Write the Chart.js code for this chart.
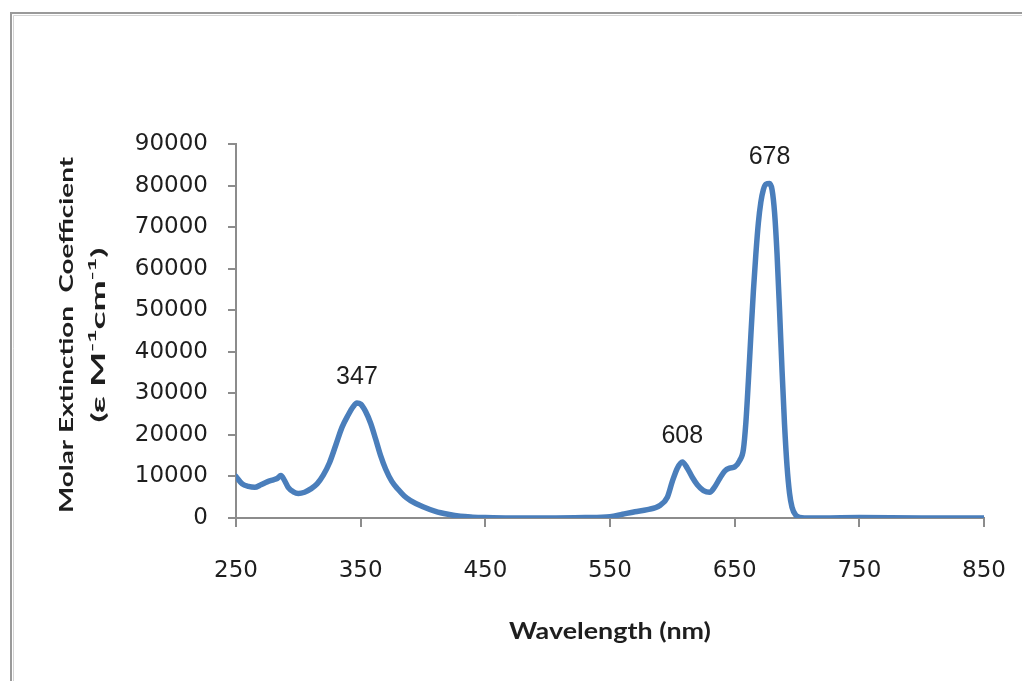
<!DOCTYPE html>
<html>
<head>
<meta charset="utf-8">
<script src="https://cdn.jsdelivr.net/npm/chart.js@4/dist/chart.umd.min.js"></script>
<style>
  html, body { margin: 0; padding: 0; background: #fff; overflow: hidden; }
  canvas { display: block; }
</style>
</head>
<body>
<canvas id="spectrum" width="1022" height="681"></canvas>
<script>
// Absorption spectrum: wavelength (nm) vs molar extinction coefficient
const wavelengths = [
  250, 255, 260, 265, 270, 275, 280, 283, 286, 289,
  292, 296, 300, 305, 310, 315, 320, 325, 330, 335,
  340, 344, 347, 350, 354, 358, 362, 366, 370, 375,
  380, 385, 390, 400, 410, 420, 430, 440, 450, 470,
  500, 530, 550, 560, 570, 580, 590, 596, 600, 604,
  608, 612, 616, 620, 625, 630, 634, 638, 642, 646,
  650, 654, 657, 659, 661, 663, 665, 667, 669, 671,
  673, 675, 678, 680, 682, 684, 686, 688, 690, 692,
  694, 696, 699, 702, 706, 720, 750, 800, 850
];
const epsilon = [
  10000, 8200, 7600, 7400, 8000, 8700, 9200, 9500, 10200, 9000,
  7300, 6300, 5900, 6200, 7000, 8200, 10300, 13300, 17500, 21800,
  24800, 26800, 27700, 27400, 25600, 22800, 19000, 15000, 11800, 8800,
  6900, 5300, 4200, 2700, 1600, 900, 400, 200, 100, 0,
  0, 100, 300, 900, 1500, 2000, 3000, 5000, 8800, 12000,
  13500, 12000, 9800, 8000, 6600, 6200, 7500, 9500, 11300, 12000,
  12300, 13800, 16500, 23000, 33000, 44000, 54500, 63500, 71000, 76000,
  79000, 80300, 80500, 79000, 73500, 63500, 50000, 35500, 22500, 12500,
  6000, 2600, 700, 150, 0, 0, 100, 0, 0
];

// Peaks that get a wavelength label above them
const peakLabels = [347, 608, 678];

const xTitle = 'Wavelength (nm)';
const yTitleLine1 = 'Molar Extinction  Coefficient';
// second line with superscripted exponents
const yTitleLine2 = [
  { t: '(\u03b5 M' }, { t: '-1', sup: true }, { t: 'cm' }, { t: '-1', sup: true }, { t: ')' }
];

const LINE_BLUE = '#4a7ebb';
const AXIS_GRAY = '#8c8c8c';
const TEXT = '#1e1e1e';
const TITLE_FONT = 'Lato, "Open Sans", sans-serif';

const points = wavelengths.map((w, i) => ({ x: w, y: epsilon[i] }));

// Thin frame along the top and left edges
const framePlugin = {
  id: 'frame',
  beforeDraw(chart) {
    const ctx = chart.ctx;
    ctx.save();
    ctx.fillStyle = '#fff';
    ctx.fillRect(0, 0, chart.width, chart.height);
    ctx.strokeStyle = '#d4d4d4';
    ctx.lineWidth = 1;
    ctx.beginPath();
    ctx.moveTo(13.5, chart.height);
    ctx.lineTo(13.5, 15.5);
    ctx.lineTo(chart.width, 15.5);
    ctx.stroke();
    ctx.strokeStyle = '#9a9a9a';
    ctx.lineWidth = 2;
    ctx.beginPath();
    ctx.moveTo(11, chart.height);
    ctx.lineTo(11, 13);
    ctx.lineTo(chart.width, 13);
    ctx.stroke();
    ctx.restore();
  }
};

// Draws a run of text segments centred on (cx, cy), stretched along
// the reading direction so the whole run spans `span` pixels.
function drawRun(ctx, segs, cx, cy, angle, size, span) {
  const fontOf = s => 'bold ' + (s.sup ? Math.round(size * 0.62) : size) + 'px ' + TITLE_FONT;
  ctx.save();
  ctx.translate(cx, cy);
  ctx.rotate(angle);
  const widths = segs.map(s => { ctx.font = fontOf(s); return ctx.measureText(s.t).width; });
  const total = widths.reduce((a, b) => a + b, 0);
  ctx.scale(span / total, 1);
  ctx.fillStyle = TEXT;
  ctx.textAlign = 'left';
  ctx.textBaseline = 'middle';
  let x = -total / 2;
  segs.forEach((s, i) => {
    ctx.font = fontOf(s);
    ctx.fillText(s.t, x, s.sup ? -size * 0.38 : 0);
    x += widths[i];
  });
  ctx.restore();
}

const axisTitlePlugin = {
  id: 'axisTitles',
  afterDraw(chart) {
    const ctx = chart.ctx;
    const area = chart.chartArea;
    const midX = (area.left + area.right) / 2;
    const midY = (area.top + area.bottom) / 2;
    drawRun(ctx, [{ t: xTitle }], midX, 632, 0, 22, 202);
    drawRun(ctx, [{ t: yTitleLine1 }], 67, midY + 4, -Math.PI / 2, 19, 356);
    drawRun(ctx, yTitleLine2, 99, midY + 4, -Math.PI / 2, 19, 175);
  }
};

// Wavelength labels over the peak maxima
const peakLabelPlugin = {
  id: 'peakLabels',
  afterDatasetsDraw(chart) {
    const ctx = chart.ctx;
    const xs = chart.scales.x;
    const ys = chart.scales.y;
    ctx.save();
    ctx.font = '25px "Liberation Sans", Arial, sans-serif';
    ctx.fillStyle = TEXT;
    ctx.textAlign = 'center';
    ctx.textBaseline = 'alphabetic';
    peakLabels.forEach(w => {
      const p = points.find(pt => pt.x === w);
      if (!p) return;
      ctx.fillText(String(w), xs.getPixelForValue(p.x), ys.getPixelForValue(p.y) - 19);
    });
    ctx.restore();
  }
};

new Chart(document.getElementById('spectrum'), {
  type: 'line',
  data: {
    datasets: [{
      data: points,
      borderColor: LINE_BLUE,
      borderWidth: 5.5,
      pointRadius: 0,
      fill: false,
      cubicInterpolationMode: 'monotone',
      borderCapStyle: 'round',
      borderJoinStyle: 'round'
    }]
  },
  options: {
    responsive: false,
    animation: false,
    layout: { padding: { left: 0, right: 38, top: 144, bottom: 0 } },
    plugins: {
      legend: { display: false },
      tooltip: { enabled: false }
    },
    scales: {
      x: {
        type: 'linear',
        min: 250,
        max: 850,
        afterFit(scale) {
          // fixed band under the plot; end labels may overhang the padding
          scale.height = 163;
          scale.paddingLeft = 0;
          scale.paddingRight = 0;
        },
        ticks: {
          stepSize: 100,
          padding: 30,
          color: TEXT,
          font: { family: '"DejaVu Sans", sans-serif', size: 23 },
          maxRotation: 0
        },
        grid: {
          drawOnChartArea: false,
          drawTicks: true,
          tickLength: 9,
          color: AXIS_GRAY,
          lineWidth: 2
        },
        border: { display: true, color: AXIS_GRAY, width: 2 }
      },
      y: {
        min: 0,
        max: 90000,
        afterFit(scale) { scale.width = 236; },
        ticks: {
          stepSize: 10000,
          padding: 20,
          color: TEXT,
          font: { family: '"DejaVu Sans", sans-serif', size: 23 },
          callback: v => String(v)
        },
        grid: {
          drawOnChartArea: false,
          drawTicks: true,
          tickLength: 8,
          color: AXIS_GRAY,
          lineWidth: 2
        },
        border: { display: true, color: AXIS_GRAY, width: 2 }
      }
    }
  },
  plugins: [framePlugin, peakLabelPlugin, axisTitlePlugin]
});
</script>
</body>
</html>
